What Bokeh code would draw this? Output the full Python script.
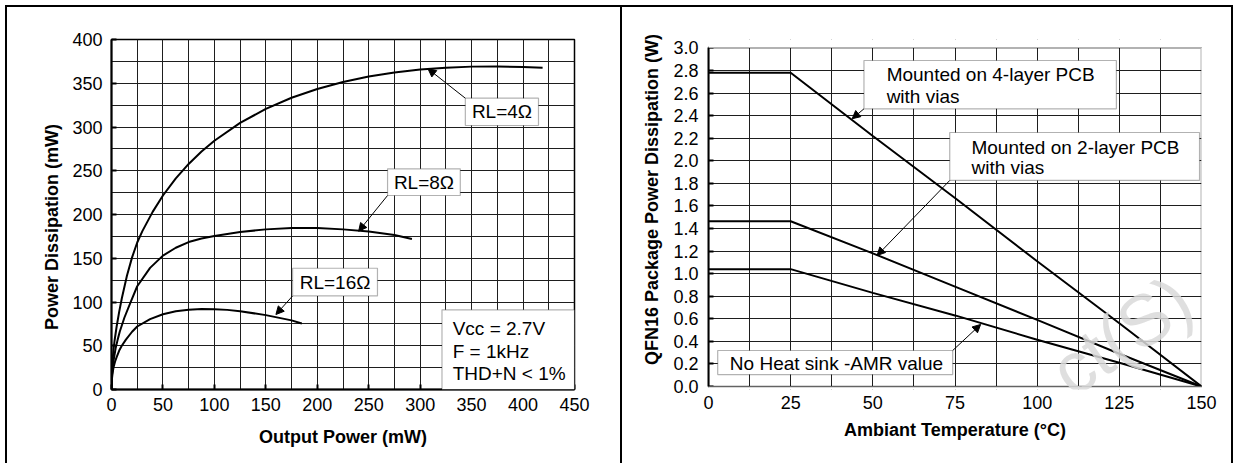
from math import pi
from bokeh.plotting import figure
from bokeh.layouts import row
from bokeh.models import (Range1d, FixedTicker, PrintfTickFormatter, BoxAnnotation,
                          Label, Arrow, NormalHead)
from bokeh.embed import file_html
from bokeh.resources import INLINE

FONT = "Liberation Sans"
FS = "18px"     # ticks / titles
FT = "19px"     # annotation texts
NB = "\u00a0"

# ---------------- Left chart: Power dissipation vs output power ----------------
out_label_ticks = list(range(0, 451, 50))
out_grid_ticks = list(range(0, 451, 25))
pd_label_ticks = list(range(0, 401, 50))
pd_grid_ticks = list(range(0, 401, 25))

rl4_x = [0, 0.5, 1, 2, 3, 5, 7.5, 10, 15, 20, 25, 30, 40, 50, 62.5, 75, 87.5, 100, 125, 150,
         175, 200, 225, 250, 275, 300, 325, 350, 375, 400, 419]
rl4_y = [0, 24, 33, 46, 56, 72, 89, 104, 130, 151, 168, 181, 203, 221.7, 241.3, 257.8, 272, 284.3,
         304.7, 320.7, 333.4, 343.5, 351.5, 357.6, 362.3, 365.6, 367.8, 369, 369.2, 368.6, 367.7]

rl8_x = [0, 0.5, 1, 2, 4, 6, 8, 12.5, 19, 25, 37.5, 50, 62.5, 75, 87.5, 100, 125, 150, 175, 200,
         225, 250, 275, 292]
rl8_y = [0, 16.6, 23.5, 33, 47, 57, 66, 82, 101, 118, 139, 153, 162, 168.5, 172.5, 175.5, 180,
         183, 184.5, 184.5, 183, 180.5, 176.5, 172]

rl16_x = [0, 0.5, 1, 2, 3.5, 5, 7.5, 10, 14, 20, 25, 37.5, 50, 62.5, 75, 87.5, 100, 112.5, 125,
          150, 175, 185]
rl16_y = [0, 13, 18, 25.5, 32, 37, 44.5, 50, 57, 66, 72, 80.5, 86, 89.5, 91.2, 92, 91.8, 91,
          89.5, 85, 79, 75.5]

# ---------------- Right chart: QFN16 derating ----------------
temp_label_ticks = [0, 25, 50, 75, 100, 125, 150]
temp_grid_ticks = [i * 12.5 for i in range(13)]
w_ticks = [round(i * 0.2, 1) for i in range(16)]

temp = [0, 25, 50, 75, 100, 125, 150]
pcb4 = [2.78, 2.78, 2.22, 1.67, 1.11, 0.56, 0.0]
pcb2 = [1.465, 1.465, 1.18, 0.885, 0.59, 0.29, 0.0]
noheat = [1.04, 1.04, 0.83, 0.63, 0.415, 0.21, 0.0]


def style(p, xt, xg, yt, yg):
    p.xaxis.ticker = FixedTicker(ticks=xt)
    p.yaxis.ticker = FixedTicker(ticks=yt)
    p.xgrid.ticker = FixedTicker(ticks=xg)
    p.ygrid.ticker = FixedTicker(ticks=yg)
    p.grid.grid_line_color = "#1e1e1e"
    p.grid.grid_line_width = 1
    p.outline_line_color = "black"
    p.outline_line_width = 1.5
    p.background_fill_color = "white"
    p.border_fill_color = None
    for ax in p.axis:
        ax.axis_line_width = 2
        ax.axis_line_color = "black"
        ax.major_tick_in = 5
        ax.major_tick_out = 0
        ax.major_tick_line_width = 2
        ax.minor_tick_line_color = None
        ax.major_label_text_font = FONT
        ax.major_label_text_font_size = FS
        ax.major_label_text_color = "black"
        ax.axis_label_text_font = FONT
        ax.axis_label_text_font_size = FS
        ax.axis_label_text_font_style = "bold"
        ax.axis_label_text_color = "black"


def box(p, l, r, t, b):
    p.add_layout(BoxAnnotation(left=l, right=r, top=t, bottom=b, fill_color="white",
                               fill_alpha=1.0, line_color="black", line_width=1.2))


def text(p, x, y, s, align="left"):
    p.add_layout(Label(x=x, y=y, text=s, text_align=align, text_baseline="middle",
                       text_font=FONT, text_font_size=FT, text_color="black"))


def arrow(p, xs, ys, xe, ye):
    p.add_layout(Arrow(end=NormalHead(size=8, fill_color="black", line_color="black", line_width=1),
                       x_start=xs, y_start=ys, x_end=xe, y_end=ye,
                       line_color="black", line_width=1))


H = 463
# ---- left figure ----
W1 = 621
p1 = figure(width=W1, height=H, x_range=Range1d(0, 450), y_range=Range1d(0, 400),
            output_backend="svg", toolbar_location=None,
            min_border_left=111, min_border_right=47, min_border_top=39, min_border_bottom=74)
style(p1, out_label_ticks, out_grid_ticks, pd_label_ticks, pd_grid_ticks)
p1.xaxis.major_label_standoff = 8
p1.yaxis.major_label_standoff = 9
p1.xaxis.axis_label = "Output Power (mW)"
p1.xaxis.axis_label_standoff = 13
p1.yaxis.axis_label = "Power Dissipation (mW)" + NB * 5
p1.yaxis.axis_label_standoff = 7
p1.styles = {"box-shadow": "inset 5px 5px 0 0 white, inset 7px 7px 0 0 black, inset -1px 0 0 0 black"}

p1.line(rl4_x, rl4_y, line_width=2, color="black")
p1.line(rl8_x, rl8_y, line_width=2, color="black")
p1.line(rl16_x, rl16_y, line_width=2, color="black")

box(p1, 343.9, 415, 332.9, 301.7)
text(p1, 379.5, 317.3, "RL=4Ω", align="center")
arrow(p1, 343.9, 332.9, 307.6, 366.5)

box(p1, 268.3, 339, 252.2, 221.7)
text(p1, 303.7, 237, "RL=8Ω", align="center")
arrow(p1, 268.3, 221.7, 240.2, 180.9)

box(p1, 176, 258.5, 138.6, 106.9)
text(p1, 217.3, 122.8, "RL=16Ω", align="center")
arrow(p1, 176, 106.9, 159.8, 85.7)

box(p1, 321.2, 450, 91.1, 0)
text(p1, 331.6, 69.4, "Vcc = 2.7V")
text(p1, 331.6, 43.8, "F = 1kHz")
text(p1, 331.6, 18.6, "THD+N < 1%")

# ---- right figure ----
W2 = 615
y_lo, y_hi = -0.0266, 3.0753
p2 = figure(width=W2, height=H, x_range=Range1d(0, 150), y_range=Range1d(y_lo, y_hi),
            output_backend="svg", toolbar_location=None,
            min_border_left=87, min_border_right=35, min_border_top=39, min_border_bottom=74)
style(p2, temp_label_ticks, temp_grid_ticks, w_ticks, w_ticks)
p2.outline_line_color = None
p2.yaxis.formatter = PrintfTickFormatter(format="%.1f")
p2.yaxis.bounds = (0, 3.0)
p2.xaxis.axis_line_color = None
p2.xaxis.major_tick_in = 0
p2.xaxis.major_label_standoff = 6
p2.yaxis.major_label_standoff = 10
p2.xaxis.axis_label = "Ambiant Temperature (°C)"
p2.xaxis.axis_label_standoff = 8
p2.yaxis.axis_label = NB * 6 + "QFN16 Package Power Dissipation (W)"
p2.yaxis.axis_label_standoff = 8
p2.styles = {"box-shadow": "inset 0 5px 0 0 white, inset -3px 0 0 0 white, "
                           "inset 1px 7px 0 0 black, inset -5px 0 0 0 black"}

p2.line(temp, pcb4, line_width=2, color="black")
p2.line(temp, pcb2, line_width=2, color="black")
p2.line(temp, noheat, line_width=2, color="black")

# white masks outside the 0..3.0 plot area, then the plot-area outline
p2.add_layout(BoxAnnotation(left=0, right=150, bottom=3.0, top=y_hi, fill_color="white",
                            fill_alpha=1, line_color=None))
p2.add_layout(BoxAnnotation(left=0, right=150, bottom=y_lo, top=0, fill_color="white",
                            fill_alpha=1, line_color=None))
p2.add_layout(BoxAnnotation(left=0, right=150, bottom=0, top=3.0, fill_alpha=0,
                            line_color="black", line_width=2))

box(p2, 47.3, 124.1, 2.889, 2.461)
text(p2, 54.2, 2.763, "Mounted on 4-layer PCB")
text(p2, 54.2, 2.570, "with vias")
arrow(p2, 47.3, 2.461, 43.7, 2.373)

box(p2, 73.4, 149.4, 2.251, 1.826)
text(p2, 80, 2.121, "Mounted on 2-layer PCB")
text(p2, 80, 1.944, "with vias")
arrow(p2, 73.4, 1.826, 51.3, 1.161)

box(p2, 2.8, 74.3, 0.319, 0.106)
text(p2, 6.5, 0.206, "No Heat sink -AMR value")
arrow(p2, 74.3, 0.319, 82.8, 0.55)

p2.add_layout(Label(x=106.5, y=0.071, text="ct(S)", angle=0.6, text_font=FONT,
                    text_font_size="72px", text_color="#d9d9d9", text_alpha=0.85,
                    text_align="left", text_baseline="alphabetic", level="overlay"))

layout = row(p1, p2)
open("out.html", "w").write(file_html(layout, INLINE))
